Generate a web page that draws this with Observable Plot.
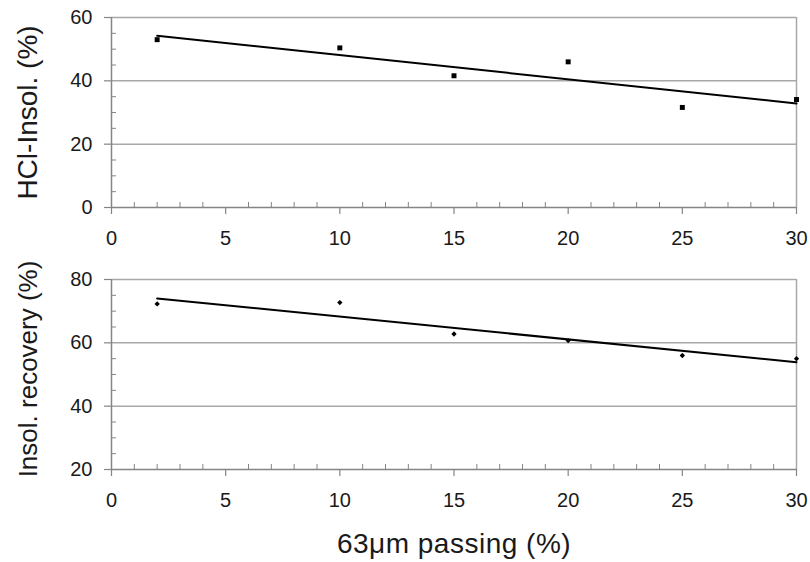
<!DOCTYPE html>
<html>
<head>
<meta charset="utf-8">
<script src="https://cdn.jsdelivr.net/npm/d3@7"></script>
<script src="https://cdn.jsdelivr.net/npm/@observablehq/plot@0.6"></script>
<style>
  html, body { margin: 0; padding: 0; background: #fff; }
  #chart svg { display: block; }
  .xtitle text { letter-spacing: 0.5px; }
</style>
</head>
<body>
<div id="chart"></div>
<script>
// Data
const passing = [2, 10, 15, 20, 25, 30];            // 63µm passing (%)
const hclInsol = [53.0, 50.4, 41.6, 46.0, 31.6, 34.1]; // HCl-Insol. (%)
const insolRecovery = [72.3, 72.7, 62.8, 60.7, 56.0, 55.0]; // Insol. recovery (%)

const xTicks = [0, 5, 10, 15, 20, 25, 30];
const xMinor = d3.range(0, 31).filter(d => d % 5 !== 0);
const topYTicks = [0, 20, 40, 60];
const topYMinor = d3.range(0, 61, 5).filter(d => d % 20 !== 0);
const botYTicks = [20, 40, 60, 80];
const botYMinor = d3.range(20, 81, 5).filter(d => d % 20 !== 0);

const topTitle = "HCl-Insol. (%)";
const botTitle = "Insol. recovery (%)";
const xTitle = "63\u03bcm passing (%)";

const W = 810;
const ML = 111, MR = 14;
const plotW = W - ML - MR;
const plotH = 190;
const gridColor = "#a8a8a8";
const axisColor = "#858585";
const font = "'Liberation Sans', Arial, Helvetica, sans-serif";

function panel({values, yDomain, yTicks, yMinor, grid, title, titleDy, titleSize, symbol, r, height, marginTop, marginBottom, xLabel}) {
  const rows = passing.map((x, i) => ({x, y: values[i]}));
  const marks = [
    Plot.ruleY(grid, {stroke: gridColor, strokeWidth: 1.5}),
    Plot.ruleX([30], {stroke: gridColor, strokeWidth: 1.5}),
    Plot.tickX(xMinor, {x: d => d, insetTop: plotH - 5, stroke: axisColor, strokeWidth: 1}),
    Plot.tickY(yMinor, {y: d => d, insetRight: plotW - 5, stroke: axisColor, strokeWidth: 1}),
    Plot.ruleY([yDomain[0]], {stroke: axisColor, strokeWidth: 1.5}),
    Plot.ruleX([0], {stroke: axisColor, strokeWidth: 1.5}),
    Plot.axisX({ticks: xTicks, tickSize: 7, tickPadding: 16, stroke: axisColor, strokeWidth: 1.2, fill: "#1a1a1a", label: null, fontSize: 20}),
    Plot.axisY({ticks: yTicks, tickSize: 7, tickPadding: 12, stroke: axisColor, strokeWidth: 1.2, fill: "#1a1a1a", label: null, fontSize: 20}),
    Plot.linearRegressionY(rows, {x: "x", y: "y", ci: 0, stroke: "#000", strokeWidth: 2}),
    Plot.dot(rows, {x: "x", y: "y", symbol, r, fill: "#000", stroke: "none"}),
    Plot.text([title], {frameAnchor: "left", dx: -83, dy: titleDy, rotate: -90, textAnchor: "middle", lineAnchor: "middle", fontSize: titleSize, fill: "#1a1a1a"})
  ];
  if (xLabel) {
    marks.push(Plot.text([xLabel], {frameAnchor: "bottom", dy: 75, textAnchor: "middle", lineAnchor: "middle", fontSize: 28, fill: "#1a1a1a", className: "xtitle"}));
  }
  return Plot.plot({
    width: W,
    height,
    marginTop,
    marginBottom,
    marginLeft: ML,
    marginRight: MR,
    style: {fontFamily: font, fontSize: "20px", background: "#fff", color: "#1a1a1a"},
    x: {domain: [0, 30]},
    y: {domain: yDomain},
    marks
  });
}

const el = document.getElementById("chart");
el.append(panel({
  values: hclInsol, yDomain: [0, 60], yTicks: topYTicks, yMinor: topYMinor,
  grid: [20, 40, 60], title: topTitle, titleDy: 0, titleSize: 28, symbol: "square", r: 2.8,
  height: 250, marginTop: 17, marginBottom: 43
}));
el.append(panel({
  values: insolRecovery, yDomain: [20, 80], yTicks: botYTicks, yMinor: botYMinor,
  grid: [40, 60, 80], title: botTitle, titleDy: -5.5, titleSize: 26, symbol: "diamond2", r: 2.4,
  height: 312, marginTop: 29, marginBottom: 93, xLabel: xTitle
}));
</script>
</body>
</html>
